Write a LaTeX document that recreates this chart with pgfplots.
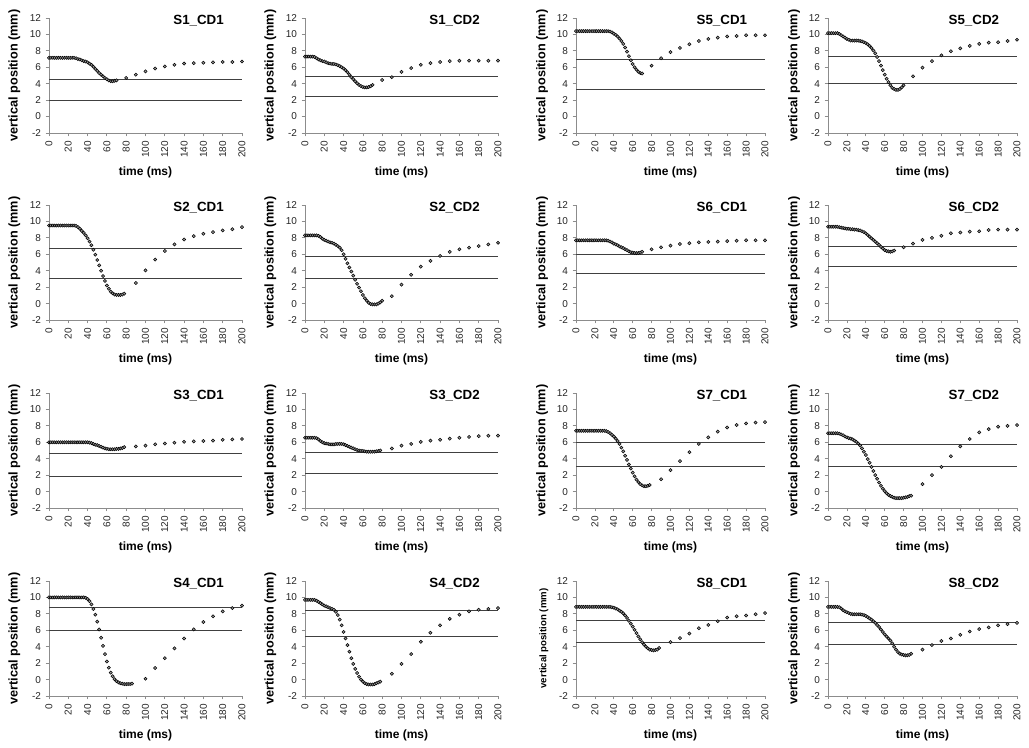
\documentclass[border=0pt]{standalone}
\usepackage{fontspec}
\setmainfont{Liberation Sans}
\usepackage{pgfplots}
\pgfplotsset{compat=1.18}
\pgfplotsset{
 panel/.style={
  scale only axis, anchor=south west, height=86.25pt, clip=false,
  xmin=0,xmax=200,ymin=-2,ymax=12,
  xtick={0,20,...,200}, ytick={-2,0,...,12},
  axis lines*=left, axis line style={black!45, line width=0.6pt},
  tick style={black!45, line width=0.6pt}, tick align=outside, major tick length=2.5pt,
  ticklabel style={font=\fontsize{7.5}{8}\selectfont, text=black!85},
  /pgf/number format/assume math mode=true,
  xticklabel style={rotate=90, anchor=east},
  xlabel={time (ms)}, ylabel={vertical position (mm)},
  xlabel style={font=\bfseries\fontsize{9}{10}\selectfont, at={(axis description cs:0.5,-0.34)}, anchor=center},
  ylabel style={font=\bfseries\fontsize{9.5}{10}\selectfont, at={(axis description cs:-0.18,0.5)}, anchor=center},
 },
 hline/.style={black!75, line width=0.75pt},
 dots/.style={only marks, mark=*, mark size=1.2pt, mark options={draw=none, fill=black!40}},
}
\newcommand{\panel}[8]{%
\begin{axis}[panel, at={(#1,#2)}, width=#3, #8]
\addplot[hline] coordinates {(0,#6) (200,#6)};
\addplot[hline] coordinates {(0,#7) (200,#7)};
\addplot[dots] coordinates {#5};
\node[anchor=east, font=\bfseries\fontsize{10}{12}\selectfont] at (rel axis cs:0.93,0.975) {#4};
\end{axis}}
\begin{document}
\begin{tikzpicture}[x=1pt,y=1pt]
\useasboundingbox (0,0) rectangle (771.75,561);
% Row 1
\panel{36.75pt}{461.25pt}{144.75pt}{S1\_CD1}{(0,7.15)(2,7.15)(4,7.15)(6,7.15)(8,7.15)(10,7.15)(12,7.15)(14,7.15)(16,7.15)(18,7.15)(20,7.15)(22,7.15)(24,7.15)(26,7.15)(28,7.1)(30,7.0)(32,6.95)(34,6.85)(36,6.75)(38,6.7)(40,6.6)(42,6.45)(44,6.3)(46,6.05)(48,5.8)(50,5.55)(52,5.3)(54,5.1)(56,4.9)(58,4.7)(60,4.55)(62,4.4)(64,4.3)(66,4.3)(68,4.35)(70,4.4)(80,4.7)(90,5.1)(100,5.5)(110,5.85)(120,6.1)(130,6.3)(140,6.45)(150,6.5)(160,6.55)(170,6.6)(180,6.65)(190,6.65)(200,6.7)}{4.5}{1.95}{}
\panel{228.75pt}{461.25pt}{144.75pt}{S1\_CD2}{(0,7.3)(2,7.3)(4,7.3)(6,7.3)(8,7.3)(10,7.25)(12,7.1)(14,6.95)(16,6.85)(18,6.75)(20,6.7)(22,6.6)(24,6.5)(26,6.45)(28,6.4)(30,6.4)(32,6.35)(34,6.25)(36,6.15)(38,6.0)(40,5.85)(42,5.65)(44,5.4)(46,5.1)(48,4.8)(50,4.55)(52,4.3)(54,4.05)(56,3.85)(58,3.7)(60,3.6)(62,3.55)(64,3.55)(66,3.6)(68,3.7)(70,3.85)(80,4.45)(90,4.8)(100,5.45)(110,5.9)(120,6.3)(130,6.5)(140,6.65)(150,6.75)(160,6.8)(170,6.8)(180,6.8)(190,6.8)(200,6.8)}{4.9}{2.45}{}
\panel{432pt}{461.25pt}{141.75pt}{S5\_CD1}{(0,10.4)(2,10.4)(4,10.4)(6,10.4)(8,10.4)(10,10.4)(12,10.4)(14,10.4)(16,10.4)(18,10.4)(20,10.4)(22,10.4)(24,10.4)(26,10.4)(28,10.4)(30,10.4)(32,10.4)(34,10.4)(36,10.35)(38,10.25)(40,10.1)(42,9.95)(44,9.75)(46,9.5)(48,9.2)(50,8.85)(52,8.4)(54,7.9)(56,7.35)(58,6.85)(60,6.4)(62,6.0)(64,5.7)(66,5.45)(68,5.3)(70,5.25)(80,6.2)(90,7.1)(100,7.85)(110,8.35)(120,8.8)(130,9.2)(140,9.45)(150,9.6)(160,9.75)(170,9.8)(180,9.9)(190,9.9)(200,9.9)}{6.9}{3.25}{}
\panel{621pt}{461.25pt}{141.75pt}{S5\_CD2}{(0,10.15)(2,10.15)(4,10.15)(6,10.15)(8,10.15)(10,10.15)(12,10.05)(14,9.9)(16,9.75)(18,9.6)(20,9.45)(22,9.35)(24,9.25)(26,9.25)(28,9.25)(30,9.25)(32,9.25)(34,9.2)(36,9.15)(38,9.05)(40,8.95)(42,8.8)(44,8.6)(46,8.35)(48,8.05)(50,7.7)(52,7.25)(54,6.75)(56,6.2)(58,5.65)(60,5.1)(62,4.6)(64,4.2)(66,3.8)(68,3.5)(70,3.35)(72,3.25)(74,3.25)(76,3.35)(78,3.55)(80,3.8)(90,4.9)(100,5.95)(110,6.75)(120,7.45)(130,7.95)(140,8.3)(150,8.6)(160,8.85)(170,9.0)(180,9.05)(190,9.2)(200,9.35)}{7.3}{4.0}{}
% Row 2
\panel{36.75pt}{321pt}{144.75pt}{S2\_CD1}{(0,9.5)(2,9.5)(4,9.5)(6,9.5)(8,9.5)(10,9.5)(12,9.5)(14,9.5)(16,9.5)(18,9.5)(20,9.5)(22,9.5)(24,9.5)(26,9.5)(28,9.45)(30,9.3)(32,9.1)(34,8.85)(36,8.6)(38,8.3)(40,7.95)(42,7.55)(44,7.1)(46,6.55)(48,5.95)(50,5.3)(52,4.65)(54,4.0)(56,3.35)(58,2.75)(60,2.2)(62,1.8)(64,1.45)(66,1.25)(68,1.1)(70,1.05)(72,1.05)(74,1.05)(76,1.1)(78,1.2)(90,2.5)(100,4.05)(110,5.35)(120,6.4)(130,7.2)(140,7.8)(150,8.2)(160,8.5)(170,8.7)(180,8.9)(190,9.05)(200,9.3)}{6.7}{3.1}{}
\panel{228.75pt}{321pt}{144.75pt}{S2\_CD2}{(0,8.3)(2,8.3)(4,8.3)(6,8.3)(8,8.3)(10,8.3)(12,8.3)(14,8.25)(16,8.1)(18,7.9)(20,7.75)(22,7.65)(24,7.55)(26,7.45)(28,7.4)(30,7.3)(32,7.15)(34,7.0)(36,6.8)(38,6.5)(40,6.0)(42,5.45)(44,4.9)(46,4.4)(48,3.9)(50,3.4)(52,2.9)(54,2.4)(56,1.95)(58,1.5)(60,1.05)(62,0.65)(64,0.35)(66,0.1)(68,-0.05)(70,-0.1)(72,-0.1)(74,-0.1)(76,0.0)(78,0.15)(80,0.35)(90,0.9)(100,2.3)(110,3.5)(120,4.5)(130,5.2)(140,5.8)(150,6.3)(160,6.6)(170,6.8)(180,7.0)(190,7.2)(200,7.4)}{5.75}{3.0}{}
\panel{432pt}{321pt}{141.75pt}{S6\_CD1}{(0,7.7)(2,7.7)(4,7.7)(6,7.7)(8,7.7)(10,7.7)(12,7.7)(14,7.7)(16,7.7)(18,7.7)(20,7.7)(22,7.7)(24,7.7)(26,7.7)(28,7.7)(30,7.7)(32,7.7)(34,7.65)(36,7.55)(38,7.45)(40,7.3)(42,7.2)(44,7.1)(46,6.95)(48,6.85)(50,6.75)(52,6.6)(54,6.5)(56,6.35)(58,6.25)(60,6.2)(62,6.15)(64,6.15)(66,6.15)(68,6.2)(70,6.3)(80,6.6)(90,6.85)(100,7.05)(110,7.25)(120,7.35)(130,7.45)(140,7.5)(150,7.55)(160,7.6)(170,7.65)(180,7.7)(190,7.7)(200,7.7)}{6.0}{3.6}{}
\panel{621pt}{321pt}{141.75pt}{S6\_CD2}{(0,9.35)(2,9.35)(4,9.35)(6,9.35)(8,9.35)(10,9.35)(12,9.3)(14,9.25)(16,9.2)(18,9.15)(20,9.1)(22,9.1)(24,9.05)(26,9.05)(28,9.0)(30,9.0)(32,8.95)(34,8.9)(36,8.8)(38,8.7)(40,8.55)(42,8.35)(44,8.15)(46,7.95)(48,7.75)(50,7.55)(52,7.35)(54,7.15)(56,6.9)(58,6.7)(60,6.5)(62,6.4)(64,6.35)(66,6.3)(68,6.35)(70,6.45)(80,6.85)(90,7.3)(100,7.75)(110,8.0)(120,8.25)(130,8.55)(140,8.65)(150,8.75)(160,8.8)(170,8.95)(180,9.0)(190,9.0)(200,9.0)}{6.95}{4.5}{}
% Row 3
\panel{36.75pt}{180pt}{144.75pt}{S3\_CD1}{(0,6.0)(2,6.0)(4,6.0)(6,6.0)(8,6.0)(10,6.0)(12,6.0)(14,6.0)(16,6.0)(18,6.0)(20,6.0)(22,6.0)(24,6.0)(26,6.0)(28,6.0)(30,6.0)(32,6.0)(34,6.0)(36,6.0)(38,6.0)(40,6.0)(42,5.95)(44,5.9)(46,5.8)(48,5.7)(50,5.65)(52,5.55)(54,5.45)(56,5.35)(58,5.25)(60,5.2)(62,5.15)(64,5.15)(66,5.15)(68,5.15)(70,5.2)(72,5.2)(74,5.25)(76,5.3)(78,5.4)(90,5.5)(100,5.6)(110,5.75)(120,5.85)(130,5.95)(140,6.05)(150,6.1)(160,6.15)(170,6.2)(180,6.3)(190,6.35)(200,6.4)}{4.6}{1.85}{}
\panel{228.75pt}{180pt}{144.75pt}{S3\_CD2}{(0,6.55)(2,6.55)(4,6.55)(6,6.55)(8,6.55)(10,6.55)(12,6.5)(14,6.35)(16,6.15)(18,6.0)(20,5.9)(22,5.85)(24,5.8)(26,5.75)(28,5.75)(30,5.75)(32,5.8)(34,5.8)(36,5.8)(38,5.8)(40,5.75)(42,5.65)(44,5.55)(46,5.45)(48,5.35)(50,5.25)(52,5.15)(54,5.05)(56,5.0)(58,4.95)(60,4.95)(62,4.9)(64,4.85)(66,4.85)(68,4.85)(70,4.85)(72,4.85)(74,4.9)(76,4.95)(78,5.0)(90,5.25)(100,5.6)(110,5.8)(120,6.05)(130,6.2)(140,6.3)(150,6.45)(160,6.55)(170,6.65)(180,6.75)(190,6.8)(200,6.8)}{4.7}{2.2}{}
\panel{432pt}{180pt}{141.75pt}{S7\_CD1}{(0,7.4)(2,7.4)(4,7.4)(6,7.4)(8,7.4)(10,7.4)(12,7.4)(14,7.4)(16,7.4)(18,7.4)(20,7.4)(22,7.4)(24,7.4)(26,7.4)(28,7.4)(30,7.4)(32,7.35)(34,7.25)(36,7.1)(38,6.9)(40,6.7)(42,6.45)(44,6.15)(46,5.8)(48,5.35)(50,4.9)(52,4.35)(54,3.85)(56,3.3)(58,2.8)(60,2.3)(62,1.85)(64,1.45)(66,1.15)(68,0.9)(70,0.75)(72,0.65)(74,0.65)(76,0.7)(78,0.8)(90,1.5)(100,2.6)(110,3.7)(120,4.8)(130,5.8)(140,6.6)(150,7.3)(160,7.8)(170,8.1)(180,8.3)(190,8.4)(200,8.45)}{6.0}{3.1}{}
\panel{621pt}{180pt}{141.75pt}{S7\_CD2}{(0,7.1)(2,7.1)(4,7.1)(6,7.1)(8,7.1)(10,7.1)(12,7.05)(14,6.95)(16,6.85)(18,6.7)(20,6.6)(22,6.5)(24,6.45)(26,6.35)(28,6.2)(30,6.05)(32,5.85)(34,5.6)(36,5.25)(38,4.85)(40,4.45)(42,3.95)(44,3.5)(46,3.0)(48,2.5)(50,2.0)(52,1.55)(54,1.1)(56,0.7)(58,0.35)(60,0.05)(62,-0.2)(64,-0.4)(66,-0.55)(68,-0.65)(70,-0.75)(72,-0.8)(74,-0.8)(76,-0.8)(78,-0.8)(80,-0.75)(82,-0.7)(84,-0.65)(86,-0.55)(88,-0.5)(100,0.9)(110,2.0)(120,3.0)(130,4.3)(140,5.5)(150,6.4)(160,7.2)(170,7.6)(180,7.9)(190,8.0)(200,8.1)}{5.7}{3.1}{}
% Row 4
\panel{36.75pt}{39pt}{144.75pt}{S4\_CD1}{(0,10.0)(2,10.0)(4,10.0)(6,10.0)(8,10.0)(10,10.0)(12,10.0)(14,10.0)(16,10.0)(18,10.0)(20,10.0)(22,10.0)(24,10.0)(26,10.0)(28,10.0)(30,10.0)(32,10.0)(34,10.0)(36,10.0)(38,9.95)(40,9.8)(42,9.55)(44,9.15)(46,8.6)(48,7.9)(50,7.05)(52,6.1)(54,5.1)(56,4.1)(58,3.1)(60,2.2)(62,1.45)(64,0.85)(66,0.4)(68,0.05)(70,-0.2)(72,-0.35)(74,-0.45)(76,-0.5)(78,-0.55)(80,-0.55)(82,-0.55)(84,-0.55)(86,-0.5)(100,0.1)(110,1.4)(120,2.6)(130,3.8)(140,5.0)(150,6.1)(160,7.0)(170,7.7)(180,8.3)(190,8.7)(200,9.0)}{8.8}{6.0}{}
\panel{228.75pt}{39pt}{144.75pt}{S4\_CD2}{(0,9.7)(2,9.7)(4,9.7)(6,9.7)(8,9.7)(10,9.7)(12,9.6)(14,9.45)(16,9.3)(18,9.15)(20,9.0)(22,8.9)(24,8.8)(26,8.7)(28,8.6)(30,8.5)(32,8.25)(34,7.85)(36,7.3)(38,6.6)(40,5.8)(42,5.0)(44,4.2)(46,3.4)(48,2.6)(50,1.9)(52,1.3)(54,0.8)(56,0.35)(58,0.0)(60,-0.25)(62,-0.45)(64,-0.55)(66,-0.6)(68,-0.6)(70,-0.6)(72,-0.55)(74,-0.45)(76,-0.35)(78,-0.25)(90,0.7)(100,1.9)(110,3.1)(120,4.6)(130,5.7)(140,6.6)(150,7.4)(160,7.9)(170,8.3)(180,8.5)(190,8.6)(200,8.7)}{8.4}{5.3}{}
\panel{432pt}{39pt}{141.75pt}{S8\_CD1}{(0,8.85)(2,8.85)(4,8.85)(6,8.85)(8,8.85)(10,8.85)(12,8.85)(14,8.85)(16,8.85)(18,8.85)(20,8.85)(22,8.85)(24,8.85)(26,8.85)(28,8.85)(30,8.85)(32,8.85)(34,8.85)(36,8.85)(38,8.8)(40,8.75)(42,8.65)(44,8.55)(46,8.4)(48,8.25)(50,8.05)(52,7.8)(54,7.5)(56,7.15)(58,6.8)(60,6.45)(62,6.05)(64,5.65)(66,5.25)(68,4.9)(70,4.55)(72,4.25)(74,4.0)(76,3.8)(78,3.65)(80,3.6)(82,3.55)(84,3.6)(86,3.65)(88,3.85)(100,4.55)(110,5.05)(120,5.6)(130,6.25)(140,6.65)(150,7.1)(160,7.55)(170,7.7)(180,7.8)(190,7.95)(200,8.1)}{7.15}{4.5}{ylabel style={font=\bfseries\fontsize{7.2}{8}\selectfont, at={(axis description cs:-0.17,0.5)}}}
\panel{621pt}{39pt}{141.75pt}{S8\_CD2}{(0,8.85)(2,8.85)(4,8.85)(6,8.85)(8,8.85)(10,8.85)(12,8.8)(14,8.65)(16,8.45)(18,8.3)(20,8.2)(22,8.1)(24,8.0)(26,7.95)(28,7.95)(30,7.95)(32,7.95)(34,7.95)(36,7.9)(38,7.85)(40,7.75)(42,7.6)(44,7.45)(46,7.3)(48,7.1)(50,6.9)(52,6.65)(54,6.4)(56,6.1)(58,5.8)(60,5.5)(62,5.25)(64,5.0)(66,4.75)(68,4.4)(70,4.0)(72,3.65)(74,3.35)(76,3.15)(78,3.05)(80,3.0)(82,2.95)(84,2.95)(86,3.0)(88,3.15)(100,3.65)(110,4.2)(120,4.7)(130,5.0)(140,5.45)(150,5.85)(160,6.15)(170,6.35)(180,6.6)(190,6.75)(200,6.9)}{7.0}{4.3}{}
\end{tikzpicture}
\end{document}
